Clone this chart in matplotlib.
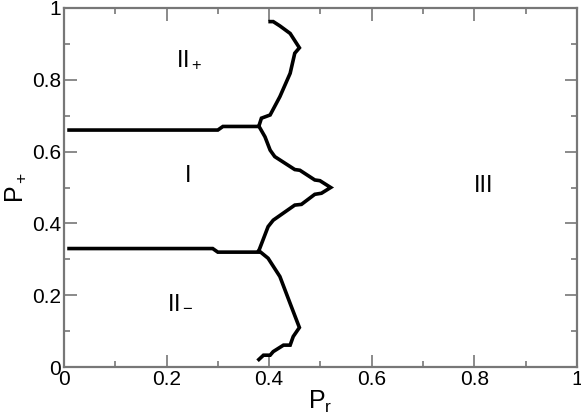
import matplotlib
matplotlib.use("Agg")
import matplotlib.pyplot as plt
from matplotlib.ticker import MultipleLocator

plt.rcParams['font.family'] = ['Liberation Sans', 'DejaVu Sans']
plt.rcParams['mathtext.fontset'] = 'custom'
plt.rcParams['mathtext.rm'] = 'Liberation Sans'
plt.rcParams['mathtext.it'] = 'Liberation Sans'

# upper horizontal boundary (II+ / I)
upper_x = [0.01, 0.30, 0.31, 0.38]
upper_y = [0.66, 0.66, 0.67, 0.67]

# lower horizontal boundary (I / II-)
lower_x = [0.01, 0.29, 0.30, 0.38]
lower_y = [0.33, 0.33, 0.32, 0.32]

# top branch, from upper junction up to the top
top_x = [0.380, 0.385, 0.402, 0.421, 0.441, 0.450, 0.459, 0.441, 0.421, 0.408, 0.402]
top_y = [0.671, 0.693, 0.702, 0.753, 0.818, 0.874, 0.889, 0.929, 0.950, 0.962, 0.962]

# middle branch: upper junction -> tip at (0.52, 0.5) -> lower junction
mid_x = [0.380, 0.392, 0.402, 0.411, 0.450, 0.460, 0.489, 0.499, 0.520,
         0.502, 0.489, 0.463, 0.450, 0.408, 0.398, 0.380]
mid_y = [0.671, 0.641, 0.604, 0.586, 0.550, 0.548, 0.521, 0.519, 0.500,
         0.484, 0.481, 0.453, 0.451, 0.409, 0.391, 0.324]

# bottom branch, from lower junction down
bot_x = [0.380, 0.398, 0.421, 0.441, 0.459, 0.447, 0.441, 0.428, 0.408, 0.402, 0.389, 0.380]
bot_y = [0.324, 0.303, 0.252, 0.177, 0.110, 0.085, 0.061, 0.061, 0.043, 0.033, 0.033, 0.021]

regions = ["II$_+$", "I", "III", "II$_-$"]
region_x = [0.245, 0.242, 0.819, 0.226]
region_y = [0.855, 0.532, 0.504, 0.181]

ticks = [0, 0.2, 0.4, 0.6, 0.8, 1]
tick_labels = ['0', '0.2', '0.4', '0.6', '0.8', '1']

fig = plt.figure(figsize=(5.81, 4.19), dpi=100)
ax = fig.add_axes([0.110, 0.124, 0.883, 0.857])

for xs, ys in [(upper_x, upper_y), (lower_x, lower_y), (top_x, top_y),
               (mid_x, mid_y), (bot_x, bot_y)]:
    ax.plot(xs, ys, color='black', lw=2.6, solid_joinstyle='miter')

for lab, x, y in zip(regions, region_x, region_y):
    ax.text(x, y, lab, fontsize=17, ha='center', va='center')

ax.set_xlim(0, 1)
ax.set_ylim(0, 1)
ax.set_xticks(ticks, tick_labels)
ax.set_yticks(ticks, tick_labels)
ax.xaxis.set_minor_locator(MultipleLocator(0.1))
ax.yaxis.set_minor_locator(MultipleLocator(0.1))
ax.tick_params(which='both', direction='in', top=True, right=True,
               color='#777777', width=1.2, labelsize=15, pad=2)
ax.tick_params(which='major', length=9)
ax.tick_params(which='minor', length=4)
for s in ax.spines.values():
    s.set_color('#777777')
    s.set_linewidth(1.6)

ax.set_xlabel('P$_\\mathrm{r}$', fontsize=18, labelpad=0)
ax.set_ylabel('P$_+$', fontsize=18, labelpad=3)

plt.savefig('out.png', dpi=100)
